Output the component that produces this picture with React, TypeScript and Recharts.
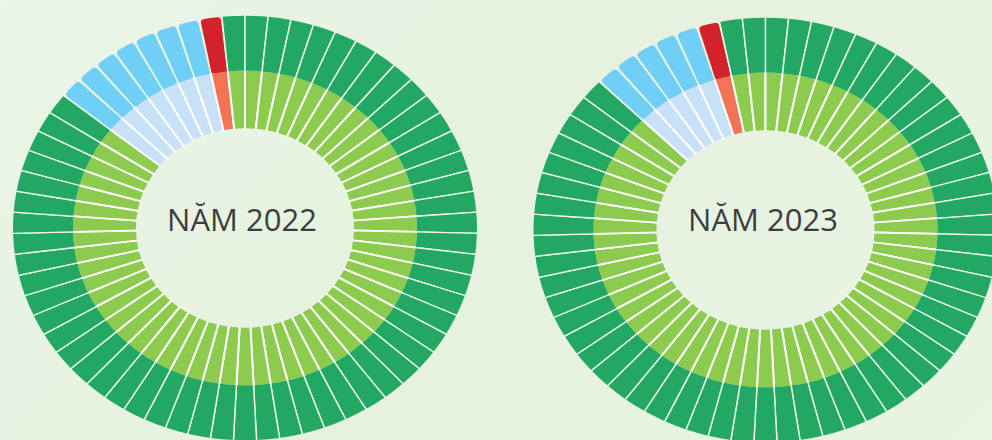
import React from 'react';
import { PieChart, Pie, Sector } from 'recharts';

// Each segment is one province; the ring shows its status for the year.
const categories = ['blue', 'red', 'green'];
const counts2022 = [7, 1, 55];
const counts2023 = [5, 1, 57];
const yearLabels = ['NĂM 2022', 'NĂM 2023'];

const outerColors: Record<string, string> = { blue: '#6fcff6', red: '#d3222b', green: '#22a862' };
const innerColors: Record<string, string> = { blue: '#c8e1f8', red: '#f27455', green: '#8dcb4f' };

const BG = '#e7f2e0';
const SQUASH = 0.915;
const W = 992;
const H = 440;
const RAD = Math.PI / 180;

function expand(counts: number[]) {
  const rows: { id: number; status: string; value: number }[] = [];
  counts.forEach((c, i) => {
    for (let k = 0; k < c; k++) rows.push({ id: rows.length, status: categories[i], value: 1 });
  });
  return rows;
}

const data2022 = expand(counts2022);
const data2023 = expand(counts2023);

const donuts = [
  { data: data2022, cx: 245, cy: 228, start: 141.43, label: yearLabels[0], tx: 242 },
  { data: data2023, cx: 765.5, cy: 230, start: 135.71, label: yearLabels[1], tx: 763 },
];

function edge(p: any, angle: number, color: string, width: number, key: string) {
  const c = Math.cos(-angle * RAD);
  const s = Math.sin(-angle * RAD);
  return (
    <line
      key={key}
      x1={p.cx + c * (p.innerRadius - 0.5)}
      y1={p.cy + s * (p.innerRadius - 0.5)}
      x2={p.cx + c * (p.outerRadius + 0.5)}
      y2={p.cy + s * (p.outerRadius + 0.5)}
      stroke={color}
      strokeWidth={width}
    />
  );
}

function statusOf(p: any) {
  return p.status ?? p.payload?.status;
}

const InnerShape = (p: any) => {
  const st = statusOf(p);
  return (
    <g>
      <Sector cx={p.cx} cy={p.cy} innerRadius={p.innerRadius} outerRadius={p.outerRadius}
        startAngle={p.startAngle} endAngle={p.endAngle} fill={innerColors[st]} stroke="none" />
      {edge(p, p.startAngle, '#ffffff', 2, 's')}
      {edge(p, p.endAngle, '#ffffff', 2, 'e')}
    </g>
  );
};

const OuterShape = (p: any) => {
  const st = statusOf(p);
  if (st === 'green') {
    return (
      <g>
        <Sector cx={p.cx} cy={p.cy} innerRadius={p.innerRadius} outerRadius={p.outerRadius}
          startAngle={p.startAngle} endAngle={p.endAngle} fill={outerColors.green} stroke="none" />
        {edge(p, p.startAngle, '#f2f8ef', 1.4, 's')}
        {edge(p, p.endAngle, '#f2f8ef', 1.4, 'e')}
      </g>
    );
  }
  // highlighted provinces: rounded outer corners, background-coloured gaps
  const gap = 0.3;
  const a0 = p.startAngle - gap;
  const a1 = p.endAngle + gap;
  return (
    <g>
      <Sector cx={p.cx} cy={p.cy} innerRadius={p.innerRadius} outerRadius={p.outerRadius}
        startAngle={a0} endAngle={a1} cornerRadius={4} fill={outerColors[st]} stroke="none" />
      <Sector cx={p.cx} cy={p.cy} innerRadius={p.innerRadius} outerRadius={p.innerRadius + 12}
        startAngle={a0} endAngle={a1} fill={outerColors[st]} stroke="none" />
    </g>
  );
};

export default function App() {
  return (
    <div
      style={{
        position: 'relative',
        width: W,
        height: H,
        overflow: 'hidden',
        background: 'linear-gradient(135deg, #eaf5e6 0%, #e6f2df 50%, #e9f4e3 100%)',
      }}
    >
      <style>{'body{margin:0}'}</style>
      <div style={{ position: 'absolute', left: 0, top: 0, transform: `scale(1, ${SQUASH})`, transformOrigin: '0 0' }}>
        <PieChart width={W} height={H / SQUASH} margin={{ top: 0, right: 0, bottom: 0, left: 0 }}>
          {donuts.map((d, di) => [
            <Pie
              key={`in${di}`}
              data={d.data}
              dataKey="value"
              cx={d.cx}
              cy={d.cy / SQUASH}
              innerRadius={109}
              outerRadius={172}
              startAngle={d.start}
              endAngle={d.start - 360}
              isAnimationActive={false}
              stroke="none"
              shape={InnerShape}
            />,
            <Pie
              key={`out${di}`}
              data={d.data}
              dataKey="value"
              cx={d.cx}
              cy={d.cy / SQUASH}
              innerRadius={172}
              outerRadius={232}
              startAngle={d.start}
              endAngle={d.start - 360}
              isAnimationActive={false}
              stroke="none"
              shape={OuterShape}
            />,
          ])}
        </PieChart>
      </div>
      <svg width={W} height={H} style={{ position: 'absolute', left: 0, top: 0 }}>
        {donuts.map((d, di) => (
          <text
            key={di}
            x={d.tx}
            y={231}
            textAnchor="middle"
            fontFamily="'Open Sans', sans-serif"
            fontSize={31}
            fill="#3d3d3f"
          >
            {d.label}
          </text>
        ))}
      </svg>
    </div>
  );
}
